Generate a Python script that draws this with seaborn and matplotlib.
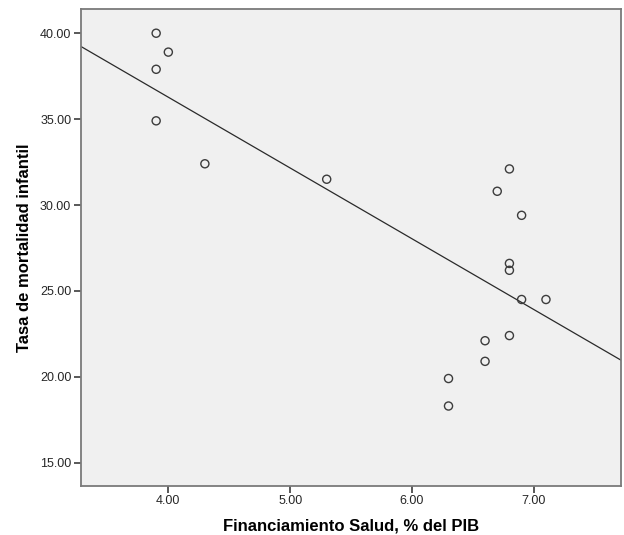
import matplotlib
matplotlib.use("Agg")
import matplotlib.pyplot as plt
import seaborn as sns
import pandas as pd

# Health spending (% of GDP) vs. infant mortality rate
financiamiento = [3.9, 3.9, 3.9, 4.0, 4.3, 5.3, 6.8, 6.7, 6.9, 6.8, 6.8,
                  6.9, 7.1, 6.8, 6.6, 6.6, 6.3, 6.3]
mortalidad = [40.0, 37.9, 34.9, 38.9, 32.4, 31.5, 32.1, 30.8, 29.4, 26.6,
              26.2, 24.5, 24.5, 22.4, 22.1, 20.9, 19.9, 18.3]
x_ticks = [4.0, 5.0, 6.0, 7.0]
y_ticks = [15.0, 20.0, 25.0, 30.0, 35.0, 40.0]

df = pd.DataFrame({"x": financiamiento, "y": mortalidad})

sns.set_style("white")
plt.rcParams["font.family"] = ["Liberation Sans", "DejaVu Sans"]

fig = plt.figure(figsize=(6.24, 5.35), dpi=100)
ax = fig.add_axes([0.1298, 0.0921, 0.8654, 0.8911])
ax.set_facecolor("#f0f0f0")
ax.set_xlim(3.283, 7.716)
ax.set_ylim(13.66, 41.41)

sns.scatterplot(data=df, x="x", y="y", ax=ax, marker="o", s=34,
                facecolor="none", edgecolor="#3c3c3c", linewidth=1.0,
                zorder=3)
sns.regplot(data=df, x="x", y="y", ax=ax, scatter=False, ci=None,
            truncate=False, line_kws={"color": "#2a2a2a", "linewidth": 0.9})

ax.set_xlim(3.283, 7.716)
ax.set_ylim(13.66, 41.41)
ax.set_xticks(x_ticks)
ax.set_yticks(y_ticks)
ax.set_xticklabels([f"{v:.2f}" for v in x_ticks])
ax.set_yticklabels([f"{v:.2f}" for v in y_ticks])
ax.tick_params(axis="both", direction="out", length=5, width=1.2,
               color="#3c3c3c", labelsize=9, labelcolor="#262626",
               bottom=True, left=True, pad=2)

for sp in ax.spines.values():
    sp.set_color("#7a7a7a")
    sp.set_linewidth(1.3)
    sp.set_visible(True)

ax.set_xlabel("Financiamiento Salud, % del PIB", fontsize=12,
              fontweight="bold", color="black", labelpad=8)
ax.set_ylabel("Tasa de mortalidad infantil", fontsize=12,
              fontweight="bold", color="black", labelpad=6)

fig.savefig("out.png", dpi=100, facecolor="white")
